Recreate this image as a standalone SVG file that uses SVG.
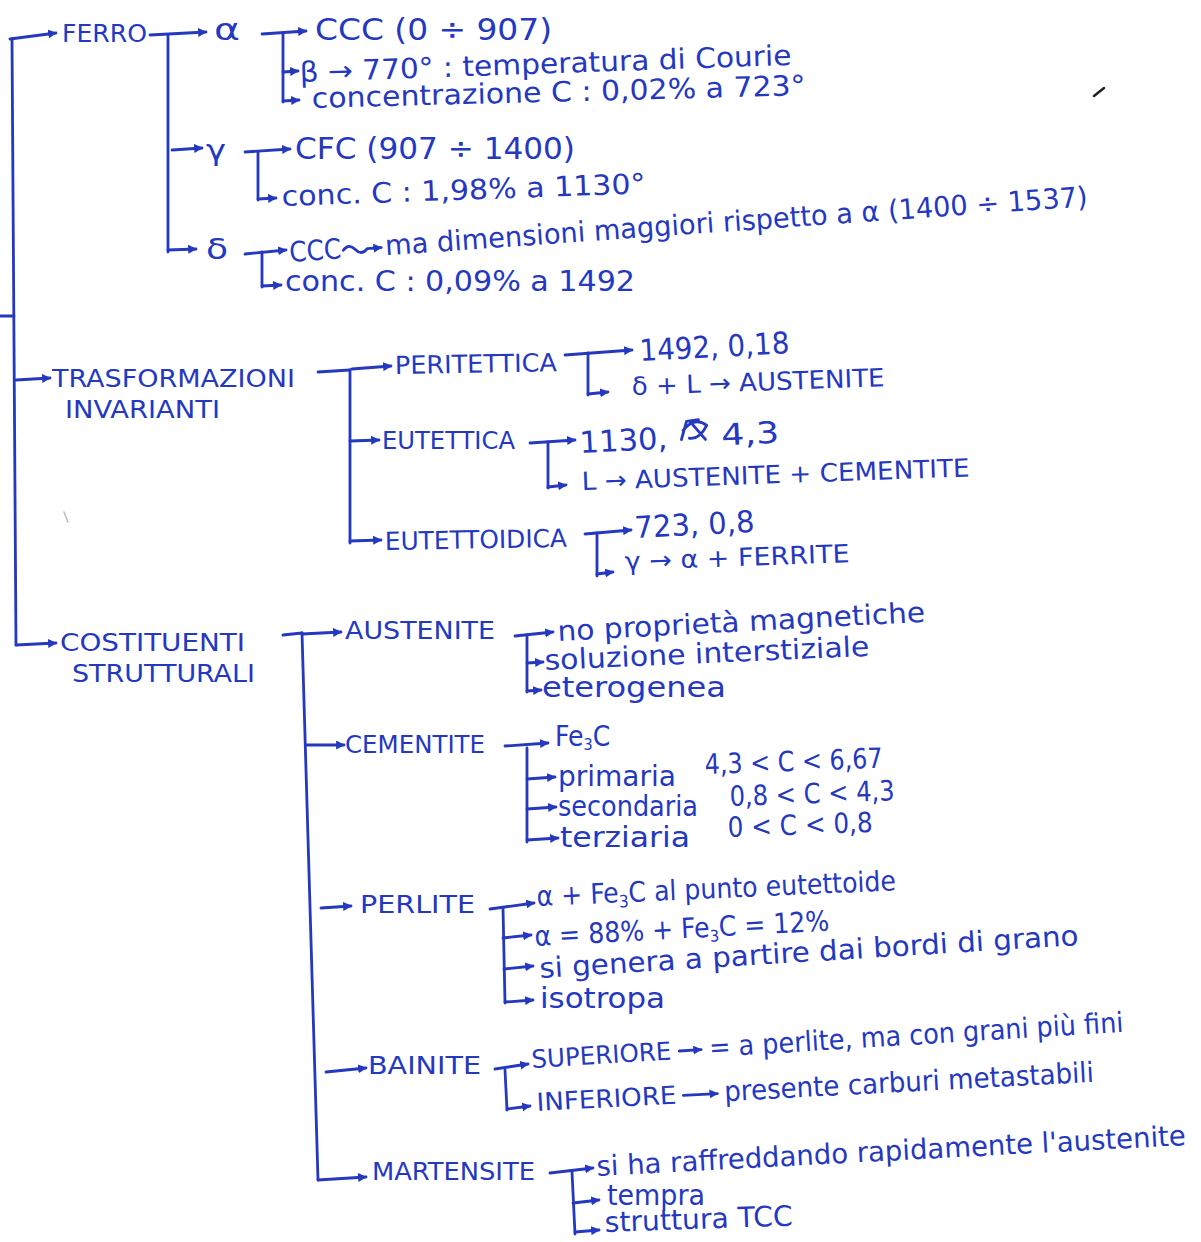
<svg xmlns="http://www.w3.org/2000/svg" width="1201" height="1242" viewBox="0 0 1201 1242">
  <defs>
    <style>
      .t { font-family: "Liberation Sans Narrow", "DejaVu Sans Condensed", "Liberation Sans", sans-serif; fill: #2438c0; }
      .cap { font-size: 25px; }
      .hw { font-size: 28px; }
      .num { font-size: 30px; }
      .ln { fill: none; stroke: #2438c0; stroke-width: 2.8; stroke-linecap: round; stroke-linejoin: round; }
      .ar { marker-end: url(#head); }
    </style>
    <marker id="head" viewBox="0 0 8 8" refX="7" refY="4" markerWidth="9" markerHeight="9" markerUnits="userSpaceOnUse" orient="auto">
      <path d="M0,0 L8,4 L0,8 z" fill="#2438c0"/>
    </marker>
  </defs>
  <rect width="1201" height="1242" fill="#ffffff"/>

  <!-- connectors -->
  <g id="connectors">
    <!-- main trunk -->
    <path class="ln" d="M0,316 L14,316"/>
    <path class="ln ar" d="M10,39 L56,33"/>
    <path class="ln" d="M12,39 L16,645"/>
    <path class="ln ar" d="M16,380 L50,378"/>
    <path class="ln ar" d="M16,645 L56,643"/>

    <!-- ferro -->
    <path class="ln ar" d="M150,35 L206,32"/>
    <path class="ln" d="M168,36 L168,252"/>
    <path class="ln ar" d="M172,150 L202,148"/>
    <path class="ln ar" d="M168,250 L196,249"/>
    <!-- alpha -->
    <path class="ln ar" d="M262,34 L306,31"/>
    <path class="ln" d="M283,34 L283,102"/>
    <path class="ln ar" d="M283,72 L298,71"/>
    <path class="ln ar" d="M283,101 L299,100"/>
    <!-- gamma -->
    <path class="ln ar" d="M245,152 L290,149"/>
    <path class="ln" d="M258,152 L258,200"/>
    <path class="ln ar" d="M258,199 L276,198"/>
    <!-- delta -->
    <path class="ln ar" d="M245,254 L286,250"/>
    <path class="ln" d="M262,252 L262,287"/>
    <path class="ln ar" d="M262,286 L281,285"/>

    <!-- trasformazioni invarianti -->
    <path class="ln" d="M318,372 L350,370"/>
    <path class="ln" d="M350,370 L350,543"/>
    <path class="ln ar" d="M352,369 L391,366"/>
    <path class="ln ar" d="M350,441 L379,440"/>
    <path class="ln ar" d="M350,541 L381,540"/>
    <path class="ln ar" d="M565,355 L632,350"/>
    <path class="ln" d="M588,353 L588,395"/>
    <path class="ln ar" d="M588,394 L608,392"/>
    <path class="ln ar" d="M530,443 L575,440"/>
    <path class="ln" d="M548,442 L548,488"/>
    <path class="ln ar" d="M548,487 L566,485"/>
    <path class="ln ar" d="M585,534 L631,530"/>
    <path class="ln" d="M597,533 L597,576"/>
    <path class="ln ar" d="M597,574 L613,572"/>

    <!-- costituenti strutturali -->
    <path class="ln" d="M283,635 L302,633"/>
    <path class="ln" d="M302,633 L318,1180"/>
    <path class="ln ar" d="M302,634 L341,632"/>
    <path class="ln ar" d="M307,745 L344,745"/>
    <path class="ln ar" d="M321,908 L351,906"/>
    <path class="ln ar" d="M326,1072 L366,1068"/>
    <path class="ln ar" d="M318,1180 L366,1177"/>
    <!-- austenite -->
    <path class="ln ar" d="M515,636 L553,632"/>
    <path class="ln" d="M527,635 L527,692"/>
    <path class="ln ar" d="M527,663 L543,662"/>
    <path class="ln ar" d="M527,691 L541,690"/>
    <!-- cementite -->
    <path class="ln ar" d="M505,746 L548,743"/>
    <path class="ln" d="M527,748 L527,842"/>
    <path class="ln ar" d="M527,779 L555,777"/>
    <path class="ln ar" d="M527,809 L556,807"/>
    <path class="ln ar" d="M527,840 L558,838"/>
    <!-- perlite -->
    <path class="ln ar" d="M490,909 L534,903"/>
    <path class="ln" d="M503,908 L505,1003"/>
    <path class="ln ar" d="M503,938 L531,935"/>
    <path class="ln ar" d="M504,969 L533,966"/>
    <path class="ln ar" d="M505,1002 L533,1000"/>
    <!-- bainite -->
    <path class="ln ar" d="M495,1069 L528,1064"/>
    <path class="ln" d="M505,1070 L507,1110"/>
    <path class="ln ar" d="M507,1109 L530,1106"/>
    <!-- martensite -->
    <path class="ln ar" d="M550,1173 L593,1168"/>
    <path class="ln" d="M572,1172 L575,1234"/>
    <path class="ln ar" d="M573,1203 L599,1200"/>
    <path class="ln ar" d="M575,1232 L599,1230"/>
  </g>

  <!-- ferro -->
  <g id="ferro">
    <text class="t cap" x="62" y="42" textLength="85" lengthAdjust="spacingAndGlyphs">FERRO</text>
  </g>
  <g id="alfa">
    <text class="t num" x="214" y="40" textLength="26" lengthAdjust="spacingAndGlyphs">α</text>
    <text class="t num" x="315" y="40" textLength="237" lengthAdjust="spacingAndGlyphs" font-size="32">CCC (0 ÷ 907)</text>
    <text class="t hw" x="300" y="82" textLength="492" lengthAdjust="spacingAndGlyphs" transform="rotate(-2 300 82)">β → 770° : temperatura di Courie</text>
    <text class="t hw" x="312" y="108" textLength="494" lengthAdjust="spacingAndGlyphs" font-size="27" transform="rotate(-1.5 312 108)">concentrazione C : 0,02% a 723°</text>
  </g>
  <g id="gamma">
    <text class="t hw" x="206" y="160" textLength="20" lengthAdjust="spacingAndGlyphs">γ</text>
    <text class="t num" x="295" y="159" textLength="280" lengthAdjust="spacingAndGlyphs">CFC (907 ÷ 1400)</text>
    <text class="t hw" x="282" y="206" textLength="364" lengthAdjust="spacingAndGlyphs" font-size="26" transform="rotate(-2 282 206)">conc. C : 1,98% a 1130°</text>
  </g>
  <g id="delta">
    <text class="t hw" x="206" y="259" textLength="22" lengthAdjust="spacingAndGlyphs">δ</text>
    <g transform="rotate(-4 290 262)">
      <text class="t hw" x="290" y="262" textLength="52" lengthAdjust="spacingAndGlyphs">CCC</text>
      <path class="ln ar" d="M344,254 q6,-7 12,0 q6,7 12,0 L382,254"/>
      <text class="t hw" x="386" y="262" textLength="704" lengthAdjust="spacingAndGlyphs">ma dimensioni maggiori rispetto a α (1400 ÷ 1537)</text>
    </g>
    <text class="t hw" x="285" y="291" textLength="350" lengthAdjust="spacingAndGlyphs" font-size="26">conc. C : 0,09% a 1492</text>
  </g>

  <!-- trasformazioni invarianti -->
  <g id="trasformazioni">
    <text class="t cap" x="52" y="387" textLength="243" lengthAdjust="spacingAndGlyphs">TRASFORMAZIONI</text>
    <text class="t cap" x="65" y="418" textLength="155" lengthAdjust="spacingAndGlyphs">INVARIANTI</text>
  </g>
  <g id="peritettica">
    <text class="t cap" x="395" y="374" textLength="162" lengthAdjust="spacingAndGlyphs" transform="rotate(-1 395 374)">PERITETTICA</text>
    <text class="t num" x="640" y="361" textLength="150" lengthAdjust="spacingAndGlyphs" transform="rotate(-3 640 361)">1492, 0,18</text>
    <text class="t cap" x="632" y="395" textLength="253" lengthAdjust="spacingAndGlyphs" font-size="26" transform="rotate(-2 632 395)">δ + L → AUSTENITE</text>
  </g>
  <g id="eutettica">
    <text class="t cap" x="382" y="449" textLength="133" lengthAdjust="spacingAndGlyphs">EUTETTICA</text>
    <g transform="rotate(-3 580 453)">
      <text class="t num" x="580" y="453" textLength="88" lengthAdjust="spacingAndGlyphs">1130,</text>
      <path class="ln" d="M682,445 L688,427 L700,426 M684,436 Q696,422 708,432 Q700,446 690,444 M692,428 L706,446" stroke-width="3"/>
      <text class="t num" x="722" y="453" textLength="58" lengthAdjust="spacingAndGlyphs">4,3</text>
    </g>
    <text class="t cap" x="582" y="490" textLength="388" lengthAdjust="spacingAndGlyphs" transform="rotate(-2 582 490)">L → AUSTENITE + CEMENTITE</text>
  </g>
  <g id="eutettoidica">
    <text class="t cap" x="385" y="550" textLength="182" lengthAdjust="spacingAndGlyphs" transform="rotate(-1 385 550)">EUTETTOIDICA</text>
    <text class="t num" x="635" y="538" textLength="120" lengthAdjust="spacingAndGlyphs" transform="rotate(-3 635 538)">723, 0,8</text>
    <text class="t cap" x="625" y="570" textLength="225" lengthAdjust="spacingAndGlyphs" transform="rotate(-2 625 570)">γ → α + FERRITE</text>
  </g>

  <!-- costituenti strutturali -->
  <g id="costituenti">
    <text class="t cap" x="60" y="651" textLength="185" lengthAdjust="spacingAndGlyphs">COSTITUENTI</text>
    <text class="t cap" x="72" y="682" textLength="183" lengthAdjust="spacingAndGlyphs">STRUTTURALI</text>
  </g>
  <g id="austenite">
    <text class="t cap" x="345" y="639" textLength="150" lengthAdjust="spacingAndGlyphs">AUSTENITE</text>
    <text class="t hw" x="558" y="641" textLength="368" lengthAdjust="spacingAndGlyphs" transform="rotate(-3 558 641)">no proprietà magnetiche</text>
    <text class="t hw" x="545" y="670" textLength="325" lengthAdjust="spacingAndGlyphs" font-size="27" transform="rotate(-2.5 545 670)">soluzione interstiziale</text>
    <text class="t hw" x="542" y="697" textLength="184" lengthAdjust="spacingAndGlyphs" font-size="27">eterogenea</text>
  </g>
  <g id="cementite">
    <text class="t cap" x="345" y="753" textLength="140" lengthAdjust="spacingAndGlyphs">CEMENTITE</text>
    <text class="t hw" x="555" y="746" font-size="26">Fe<tspan font-size="16" dy="4">3</tspan><tspan dy="-4">C</tspan></text>
    <text class="t hw" x="558" y="786" textLength="118" lengthAdjust="spacingAndGlyphs" font-size="23">primaria</text>
    <text class="t hw" x="705" y="774" textLength="178" lengthAdjust="spacingAndGlyphs" font-size="26" transform="rotate(-2 705 774)">4,3 &lt; C &lt; 6,67</text>
    <text class="t hw" x="558" y="816" textLength="140" lengthAdjust="spacingAndGlyphs" font-size="23">secondaria</text>
    <text class="t hw" x="730" y="806" textLength="165" lengthAdjust="spacingAndGlyphs" font-size="26" transform="rotate(-2 730 806)">0,8 &lt; C &lt; 4,3</text>
    <text class="t hw" x="560" y="847" textLength="130" lengthAdjust="spacingAndGlyphs" font-size="23">terziaria</text>
    <text class="t hw" x="728" y="837" textLength="145" lengthAdjust="spacingAndGlyphs" font-size="26" transform="rotate(-2 728 837)">0 &lt; C &lt; 0,8</text>
  </g>
  <g id="perlite">
    <text class="t cap" x="360" y="913" textLength="115" lengthAdjust="spacingAndGlyphs">PERLITE</text>
    <text class="t hw" x="537" y="906" font-size="27" transform="rotate(-2.5 537 906)">α + Fe<tspan font-size="17" dy="5">3</tspan><tspan dy="-5">C   al punto eutettoide</tspan></text>
    <text class="t hw" x="535" y="946" font-size="25" transform="rotate(-3 535 946)">α = 88% + Fe<tspan font-size="16" dy="5">3</tspan><tspan dy="-5">C = 12%</tspan></text>
    <text class="t hw" x="540" y="978" textLength="540" lengthAdjust="spacingAndGlyphs" transform="rotate(-3.5 540 978)">si genera a partire dai bordi di grano</text>
    <text class="t hw" x="540" y="1008" textLength="125" lengthAdjust="spacingAndGlyphs">isotropa</text>
  </g>
  <g id="bainite">
    <text class="t cap" x="368" y="1074" textLength="113" lengthAdjust="spacingAndGlyphs">BAINITE</text>
    <g transform="rotate(-3.5 532 1068)">
      <text class="t cap" x="532" y="1068" textLength="140" lengthAdjust="spacingAndGlyphs">SUPERIORE</text>
      <path class="ln ar" d="M680,1060 L702,1060"/>
      <text class="t hw" x="710" y="1068" textLength="415" lengthAdjust="spacingAndGlyphs" font-size="27">= a perlite, ma con grani più fini</text>
    </g>
    <g transform="rotate(-3 537 1111)">
      <text class="t cap" x="537" y="1111" textLength="140" lengthAdjust="spacingAndGlyphs">INFERIORE</text>
      <path class="ln ar" d="M684,1103 L718,1103"/>
      <text class="t hw" x="725" y="1111" textLength="370" lengthAdjust="spacingAndGlyphs" font-size="27">presente carburi metastabili</text>
    </g>
  </g>
  <g id="martensite">
    <text class="t cap" x="372" y="1180" textLength="163" lengthAdjust="spacingAndGlyphs">MARTENSITE</text>
    <text class="t hw" x="597" y="1176" textLength="590" lengthAdjust="spacingAndGlyphs" transform="rotate(-3 597 1176)">si ha raffreddando rapidamente l'austenite</text>
    <text class="t hw" x="607" y="1205" textLength="98" lengthAdjust="spacingAndGlyphs" font-size="26">tempra</text>
    <text class="t hw" x="605" y="1232" textLength="188" lengthAdjust="spacingAndGlyphs" font-size="26" transform="rotate(-2 605 1232)">struttura TCC</text>
  </g>

  <!-- stray pen marks on the sheet -->
  <path d="M1094,96 L1104,88" stroke="#222" stroke-width="2.5" stroke-linecap="round" fill="none"/>
  <path d="M64,512 L68,522" stroke="#bbb" stroke-width="1.5" stroke-linecap="round" fill="none"/>
</svg>
